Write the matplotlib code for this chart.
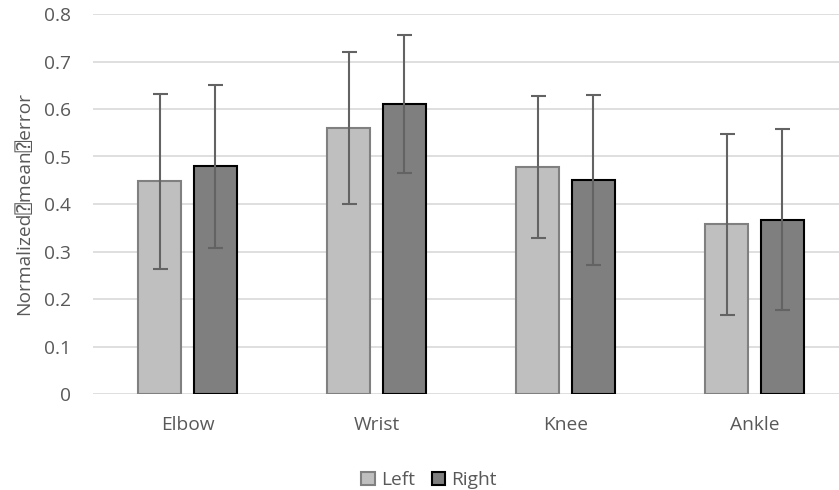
import matplotlib
matplotlib.use("Agg")
import matplotlib.pyplot as plt
import numpy as np
from matplotlib.patches import Patch

categories = ["Elbow", "Wrist", "Knee", "Ankle"]
left_vals = [0.448, 0.559, 0.478, 0.357]
right_vals = [0.479, 0.610, 0.451, 0.367]
left_err = [0.184, 0.160, 0.150, 0.190]
right_err = [0.171, 0.145, 0.179, 0.191]
yticks = [0, 0.1, 0.2, 0.3, 0.4, 0.5, 0.6, 0.7, 0.8]
ytick_labels = ["0", "0.1", "0.2", "0.3", "0.4", "0.5", "0.6", "0.7", "0.8"]

fams = ['Open Sans', 'DejaVu Sans', 'DejaVu Sans Mono', 'Noto Sans']
plt.rcParams['font.family'] = fams
txt = "#595959"
fs = 13.8

fig = plt.figure(figsize=(8.39, 4.9), dpi=100)
ax = fig.add_axes([93/839, 96/490, (839-93)/839, (394-14)/490])

x = np.arange(len(categories))
w = 0.228
off = 0.1466
ax.bar(x - off, left_vals, w, color="#BFBFBF", edgecolor="#808080", linewidth=1.5, zorder=2)
ax.bar(x + off, right_vals, w, color="#7F7F7F", edgecolor="#000000", linewidth=1.5, zorder=2)
ax.errorbar(x - off, left_vals, yerr=left_err, fmt="none", ecolor="#636363",
            elinewidth=1.5, capsize=5.4, capthick=1.5, zorder=3)
ax.errorbar(x + off, right_vals, yerr=right_err, fmt="none", ecolor="#636363",
            elinewidth=1.5, capsize=5.4, capthick=1.5, zorder=3)

ax.set_xlim(-0.5, 3.5 - 10/189)
ax.set_ylim(0, 0.8)
ax.set_yticks(yticks)
ax.set_yticklabels(ytick_labels)
ax.set_xticks(x)
ax.set_xticklabels(categories)
ax.yaxis.grid(True, color="#D9D9D9", linewidth=1.2, zorder=0)
ax.set_axisbelow(True)
for s in ax.spines.values():
    s.set_visible(False)
ax.tick_params(axis="both", length=0, colors=txt, labelsize=fs)
ax.tick_params(axis="y", pad=16)
ax.tick_params(axis="x", pad=16)

fig.text(24/839, 1 - 203/490, "Normalized\u2370mean\u2370error", rotation=90,
         ha="center", va="center", color=txt, fontsize=fs, family=fams)

handles = [Patch(facecolor="#BFBFBF", edgecolor="#808080", linewidth=1.5, label="Left"),
           Patch(facecolor="#7F7F7F", edgecolor="#000000", linewidth=1.5, label="Right")]
leg = fig.legend(handles=handles, loc="center", bbox_to_anchor=(429/839, 1 - 480/490),
                 ncol=2, frameon=False, fontsize=fs, handlelength=0.7, handleheight=0.7,
                 handletextpad=0.3, columnspacing=0.9, borderpad=0)
for t in leg.get_texts():
    t.set_color(txt)

fig.savefig("out.png", dpi=100)
